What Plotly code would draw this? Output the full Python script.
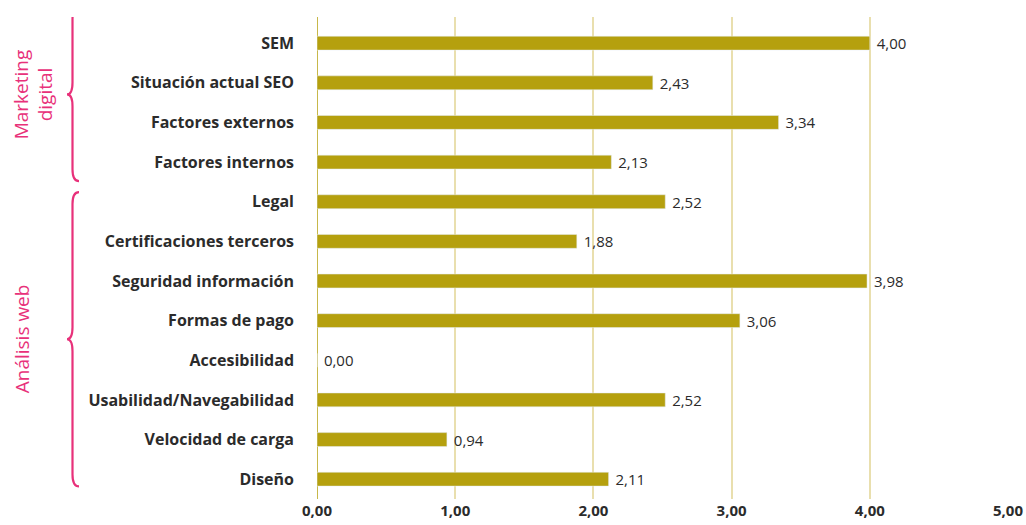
import plotly.graph_objects as go

# Categories from top to bottom, as in the picture
categories = [
    "SEM",
    "Situación actual SEO",
    "Factores externos",
    "Factores internos",
    "Legal",
    "Certificaciones terceros",
    "Seguridad información",
    "Formas de pago",
    "Accesibilidad",
    "Usabilidad/Navegabilidad",
    "Velocidad de carga",
    "Diseño",
]
scores = [4.00, 2.43, 3.34, 2.13, 2.52, 1.88, 3.98, 3.06, 0.00, 2.52, 0.94, 2.11]

# Group labels with how many categories (from the top) each one spans
groups = ["Marketing<br>digital", "Análisis web"]
group_sizes = [4, 8]

BAR = "#b5a00e"
GRID = "#e9dfae"
PINK = "#e8317a"
TEXT = "#2b2b2b"

# plot from bottom to top
y_order = categories[::-1]

fig = go.Figure(
    go.Bar(
        x=scores,
        y=categories,
        orientation="h",
        marker={"color": BAR},
        width=0.35,
        text=scores,
        texttemplate=" %{x:.2f}",
        textposition="outside",
        constraintext="none",
        textfont={"family": "Open Sans", "size": 15, "color": TEXT},
        cliponaxis=False,
    )
)

L, R = 317, 18
W = 1026 - L - R


def px_to_paper(px):
    return (px - L) / W


# Curly braces and rotated group titles
n = len(categories)
start = 0
brace_pad = [(0.9, 0.48), (0.24, 0.18)]
label_x = [33, 22]
for g, (name, size) in enumerate(zip(groups, group_sizes)):
    top_idx = n - 1 - start
    bot_idx = n - start - size
    ytop = top_idx + brace_pad[g][0]
    ybot = bot_idx - brace_pad[g][1]
    ymid = (ytop + ybot) / 2
    xo = px_to_paper(79)
    xv = px_to_paper(72.5)
    xt = px_to_paper(67)
    d = 0.3
    e = 0.3
    path = (
        f"M {xo},{ytop} Q {xv},{ytop} {xv},{ytop - e} "
        f"L {xv},{ymid + d} Q {xv},{ymid} {xt},{ymid} "
        f"Q {xv},{ymid} {xv},{ymid - d} "
        f"L {xv},{ybot + e} Q {xv},{ybot} {xo},{ybot}"
    )
    fig.add_shape(
        type="path",
        path=path,
        xref="paper",
        yref="y",
        line={"color": PINK, "width": 2.2},
        layer="above",
    )
    fig.add_annotation(
        x=px_to_paper(label_x[g]),
        y=ymid,
        xref="paper",
        yref="y",
        xanchor="center",
        yanchor="middle",
        text=name,
        textangle=-90,
        showarrow=False,
        font={"family": "Open Sans", "size": 19, "color": PINK},
        align="center",
    )
    start += size

fig.update_layout(
    width=1026,
    height=525,
    margin={"l": L, "r": R, "t": 17, "b": 26, "autoexpand": False},
    paper_bgcolor="white",
    plot_bgcolor="white",
    separators=",.",
    showlegend=False,
    xaxis={
        "range": [0, 5],
        "dtick": 1,
        "tickformat": ".2f",
        "showgrid": True,
        "gridcolor": GRID,
        "gridwidth": 1.5,
        "zeroline": False,
        "showline": False,
        "ticks": "",
        "automargin": False,
        "ticklabelstandoff": 1,
        "tickfont": {"family": "Open Sans", "size": 15, "color": TEXT, "weight": "bold"},
        "fixedrange": True,
    },
    yaxis={
        "type": "category",
        "categoryorder": "array",
        "categoryarray": y_order,
        "range": [-0.5, n - 1 + 0.66],
        "showgrid": False,
        "zeroline": False,
        "ticks": "",
        "automargin": False,
        "ticklabelstandoff": 22,
        "tickfont": {"family": "Open Sans", "size": 16, "color": TEXT, "weight": "bold"},
        "fixedrange": True,
    },
)

# the axis line sits on the left edge (value 0)
fig.add_vline(x=0, line={"color": BAR, "width": 1.5}, layer="below")

fig.write_html(
    "out.html",
    config={"displayModeBar": False},
    post_script="document.body.style.margin='0';",
)
